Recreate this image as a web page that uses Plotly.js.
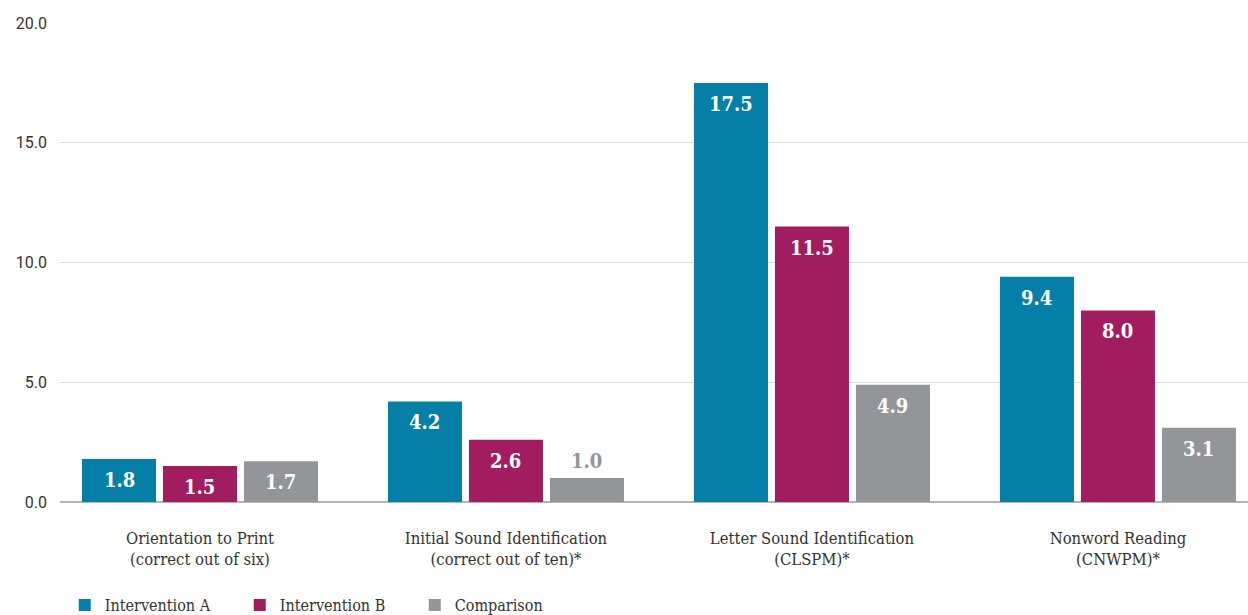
<!DOCTYPE html>
<html>
<head>
<meta charset="utf-8">
<script src="https://cdn.plot.ly/plotly-3.0.1.min.js"></script>
<style>html,body{margin:0;padding:0;background:#fff;}#chart{width:1248px;height:615px;}</style>
</head>
<body>
<div id="chart"></div>
<script>
const categories = [
  "Orientation to Print<br>(correct out of six)",
  "Initial Sound Identification<br>(correct out of ten)*",
  "Letter Sound Identification<br>(CLSPM)*",
  "Nonword Reading<br>(CNWPM)*"
];
const seriesNames = ["Intervention A", "Intervention B", "Comparison"];
const interventionA = [1.8, 4.2, 17.5, 9.4];
const interventionB = [1.5, 2.6, 11.5, 8.0];
const comparison = [1.7, 1.0, 4.9, 3.1];
const yTicks = [0, 5, 10, 15, 20];

const colors = ["#057ea8", "#a11d5f", "#939598"];
const labelFont = "'Roboto Slab', 'DejaVu Serif Condensed', 'DejaVu Serif', serif";
const bargap = 0.206;
const slot = (1 - bargap) / 3;

const series = [interventionA, interventionB, comparison];
const data = series.map((vals, i) => ({
  type: 'bar', name: seriesNames[i], x: categories, y: vals,
  marker: {color: colors[i]},
  textposition: 'none',
  hoverinfo: 'skip'
}));

const annotations = [];
series.forEach((vals, i) => {
  vals.forEach((v, j) => {
    const small = v < 1.2;
    annotations.push({
      xref: 'x', yref: 'y', x: j + (i - 1) * slot, y: v,
      text: v.toFixed(1), showarrow: false,
      yanchor: 'middle', yshift: small ? 17 : -21,
      font: {family: labelFont, size: 20, weight: 'bold', color: small ? '#939598' : '#ffffff'}
    });
  });
});

const layout = {
  width: 1248, height: 615,
  margin: {l: 60, r: 0, t: 23, b: 113, autoexpand: false},
  paper_bgcolor: '#fff', plot_bgcolor: '#fff',
  barmode: 'group', bargap: bargap, bargroupgap: 0.086,
  showlegend: true,
  legend: {orientation: 'h', x: 0.004, xanchor: 'left', y: -0.18, yanchor: 'top',
    font: {family: labelFont, size: 16, color: '#333'}, itemwidth: 30, traceorder: 'normal',
    entrywidth: 130, entrywidthmode: 'pixels'},
  annotations: annotations,
  xaxis: {type: 'category', range: [-0.4575, 3.425], showgrid: false, zeroline: false,
    showline: false, ticks: '', ticklabelstandoff: 24,
    tickfont: {family: labelFont, size: 16.5, color: '#333'}},
  yaxis: {range: [0, 20], tickvals: yTicks, tickformat: '.1f', showgrid: true, gridcolor: '#dcdcdc',
    gridwidth: 1, zeroline: true, zerolinecolor: '#b3b3b3', zerolinewidth: 2, showline: false,
    ticks: '', ticklabelstandoff: 12, tickfont: {family: 'Roboto, sans-serif', size: 16, color: '#333'}}
};

Plotly.newPlot('chart', data, layout, {displayModeBar: false, staticPlot: true});
</script>
</body>
</html>
